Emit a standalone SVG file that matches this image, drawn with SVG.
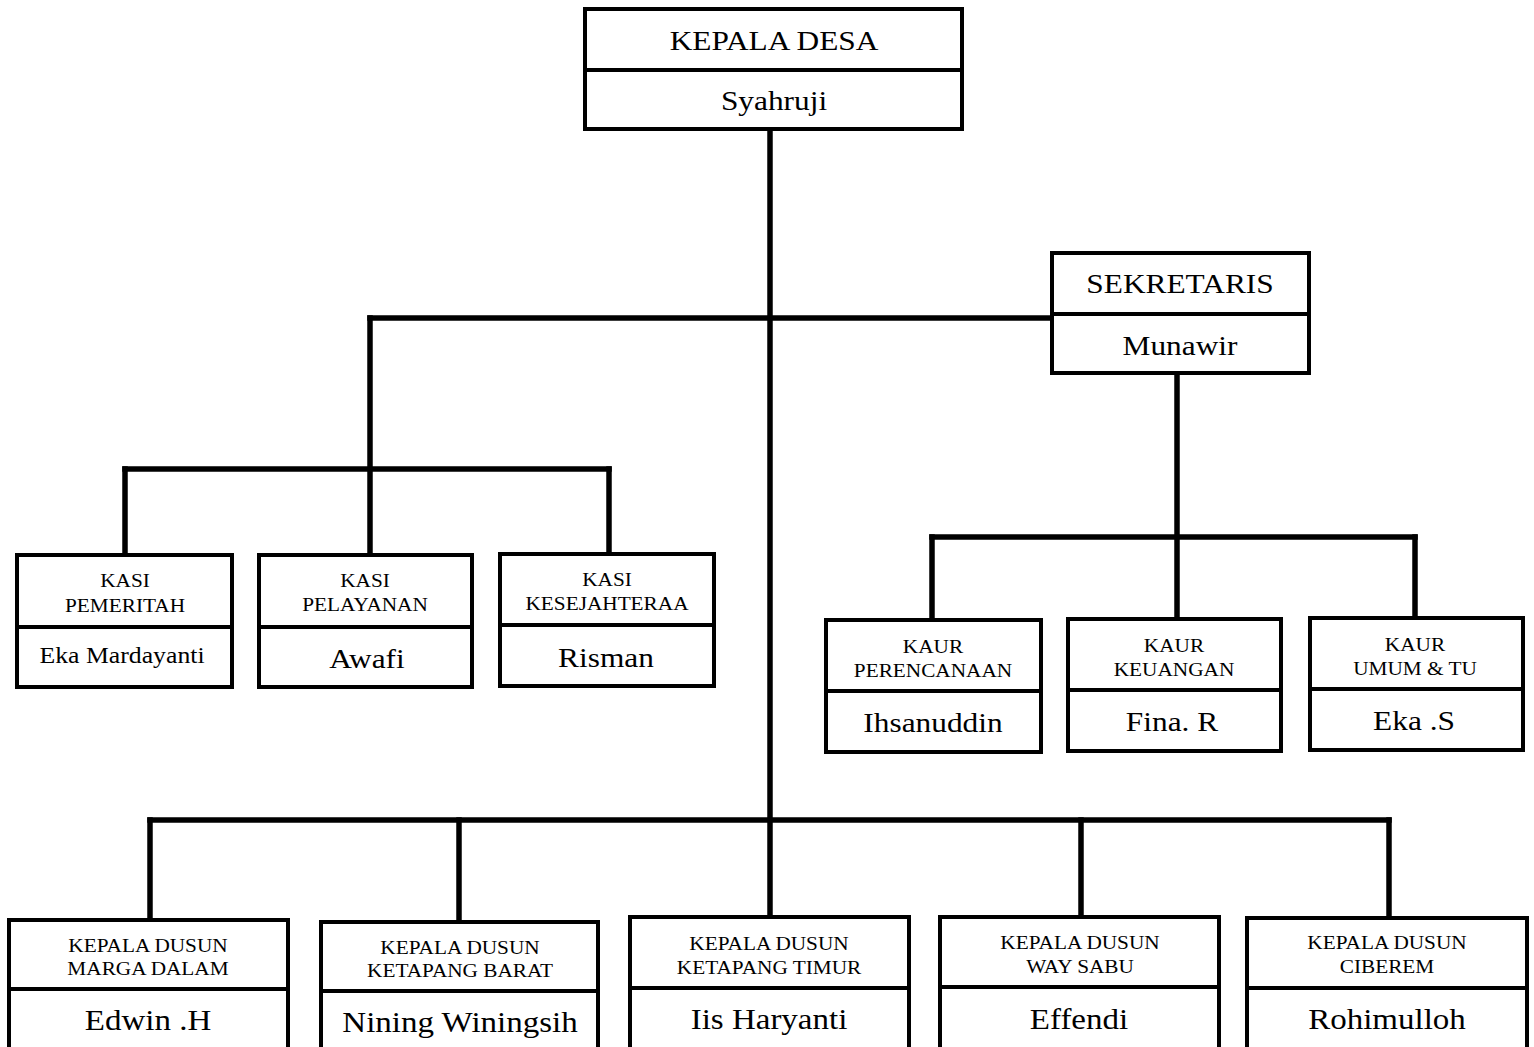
<svg xmlns="http://www.w3.org/2000/svg" width="1534" height="1047" viewBox="0 0 1534 1047">
<style>
  .box { fill: #fff; stroke: #000; stroke-width: 4; }
  .div { stroke: #000; stroke-width: 4; }
  .con { fill: none; stroke: #000; stroke-width: 5.5; stroke-linecap: square; }
  text { font-family: "Liberation Serif", "Times New Roman", serif; fill: #000; text-anchor: middle; }
  .t1 { font-size: 28px; }
  .h { font-size: 19px; }
  .n { font-size: 28px; }
  .ns { font-size: 23px; }
  .nd { font-size: 30px; }
</style>
<rect width="1534" height="1047" fill="#fff"/>
<g id="connectors">
  <path class="con" d="M770,129 V918"/>
  <path class="con" d="M370,318 H1052"/>
  <path class="con" d="M370,318 V555"/>
  <path class="con" d="M125,469 H609"/>
  <path class="con" d="M125,469 V555"/>
  <path class="con" d="M609,469 V554"/>
  <path class="con" d="M1177,373 V619"/>
  <path class="con" d="M932,537 H1415"/>
  <path class="con" d="M932,537 V620"/>
  <path class="con" d="M1415,537 V618"/>
  <path class="con" d="M150,820 H1389"/>
  <path class="con" d="M150,820 V920"/>
  <path class="con" d="M459,820 V922"/>
  <path class="con" d="M1081,820 V917"/>
  <path class="con" d="M1389,820 V918"/>
</g>
<g id="kepala-desa">
  <rect class="box" x="585" y="9" width="377" height="120"/>
  <line class="div" x1="585" y1="70" x2="962" y2="70"/>
  <text class="t1" transform="translate(774,50) scale(1.12 1)">KEPALA DESA</text>
  <text class="t1" transform="translate(774,110) scale(1.12 1)">Syahruji</text>
</g>
<g id="sekretaris">
  <rect class="box" x="1052" y="253" width="257" height="120"/>
  <line class="div" x1="1052" y1="314" x2="1309" y2="314"/>
  <text class="t1" transform="translate(1180,293) scale(1.12 1)">SEKRETARIS</text>
  <text class="t1" transform="translate(1180,355) scale(1.12 1)">Munawir</text>
</g>
<g id="kasi-pemerintah">
  <rect class="box" x="17" y="555" width="215" height="132"/>
  <line class="div" x1="17" y1="627" x2="232" y2="627"/>
  <text class="h" transform="translate(125,587) scale(1.12 1)">KASI</text>
  <text class="h" transform="translate(125,612) scale(1.12 1)">PEMERITAH</text>
  <text class="ns" transform="translate(122,663) scale(1.12 1)">Eka Mardayanti</text>
</g>
<g id="kasi-pelayanan">
  <rect class="box" x="259" y="555" width="213" height="132"/>
  <line class="div" x1="259" y1="627" x2="472" y2="627"/>
  <text class="h" transform="translate(365,587) scale(1.12 1)">KASI</text>
  <text class="h" transform="translate(365,611) scale(1.12 1)">PELAYANAN</text>
  <text class="n" transform="translate(367,668) scale(1.12 1)">Awafi</text>
</g>
<g id="kasi-kesejahteraan">
  <rect class="box" x="500" y="554" width="214" height="132"/>
  <line class="div" x1="500" y1="625" x2="714" y2="625"/>
  <text class="h" transform="translate(607,586) scale(1.12 1)">KASI</text>
  <text class="h" transform="translate(607,610) scale(1.12 1)">KESEJAHTERAA</text>
  <text class="n" transform="translate(606,667) scale(1.12 1)">Risman</text>
</g>
<g id="kaur-perencanaan">
  <rect class="box" x="826" y="620" width="215" height="132"/>
  <line class="div" x1="826" y1="691" x2="1041" y2="691"/>
  <text class="h" transform="translate(933,653) scale(1.12 1)">KAUR</text>
  <text class="h" transform="translate(933,677) scale(1.12 1)">PERENCANAAN</text>
  <text class="n" transform="translate(933,732) scale(1.12 1)">Ihsanuddin</text>
</g>
<g id="kaur-keuangan">
  <rect class="box" x="1068" y="619" width="213" height="132"/>
  <line class="div" x1="1068" y1="690" x2="1281" y2="690"/>
  <text class="h" transform="translate(1174,652) scale(1.12 1)">KAUR</text>
  <text class="h" transform="translate(1174,676) scale(1.12 1)">KEUANGAN</text>
  <text class="n" transform="translate(1172,731) scale(1.12 1)">Fina. R</text>
</g>
<g id="kaur-umum">
  <rect class="box" x="1310" y="618" width="213" height="132"/>
  <line class="div" x1="1310" y1="689" x2="1523" y2="689"/>
  <text class="h" transform="translate(1415,651) scale(1.12 1)">KAUR</text>
  <text class="h" transform="translate(1415,675) scale(1.12 1)">UMUM &amp; TU</text>
  <text class="n" transform="translate(1414,730) scale(1.12 1)">Eka .S</text>
</g>
<g id="dusun-marga-dalam">
  <rect class="box" x="9" y="920" width="279" height="135"/>
  <line class="div" x1="9" y1="989" x2="288" y2="989"/>
  <text class="h" transform="translate(148,952) scale(1.12 1)">KEPALA DUSUN</text>
  <text class="h" transform="translate(148,975) scale(1.12 1)">MARGA DALAM</text>
  <text class="nd" transform="translate(148,1030) scale(1.1 1)">Edwin .H</text>
</g>
<g id="dusun-ketapang-barat">
  <rect class="box" x="321" y="922" width="277" height="135"/>
  <line class="div" x1="321" y1="991" x2="598" y2="991"/>
  <text class="h" transform="translate(460,954) scale(1.12 1)">KEPALA DUSUN</text>
  <text class="h" transform="translate(460,977) scale(1.12 1)">KETAPANG BARAT</text>
  <text class="nd" transform="translate(460,1032) scale(1.1 1)">Nining Winingsih</text>
</g>
<g id="dusun-ketapang-timur">
  <rect class="box" x="630" y="917" width="279" height="138"/>
  <line class="div" x1="630" y1="988" x2="909" y2="988"/>
  <text class="h" transform="translate(769,950) scale(1.12 1)">KEPALA DUSUN</text>
  <text class="h" transform="translate(769,974) scale(1.12 1)">KETAPANG TIMUR</text>
  <text class="nd" transform="translate(769,1029) scale(1.1 1)">Iis Haryanti</text>
</g>
<g id="dusun-way-sabu">
  <rect class="box" x="940" y="917" width="279" height="138"/>
  <line class="div" x1="940" y1="987" x2="1219" y2="987"/>
  <text class="h" transform="translate(1080,949) scale(1.12 1)">KEPALA DUSUN</text>
  <text class="h" transform="translate(1080,973) scale(1.12 1)">WAY SABU</text>
  <text class="nd" transform="translate(1079,1029) scale(1.1 1)">Effendi</text>
</g>
<g id="dusun-ciberem">
  <rect class="box" x="1247" y="918" width="280" height="137"/>
  <line class="div" x1="1247" y1="988" x2="1527" y2="988"/>
  <text class="h" transform="translate(1387,949) scale(1.12 1)">KEPALA DUSUN</text>
  <text class="h" transform="translate(1387,973) scale(1.12 1)">CIBEREM</text>
  <text class="nd" transform="translate(1387,1029) scale(1.1 1)">Rohimulloh</text>
</g>
</svg>
